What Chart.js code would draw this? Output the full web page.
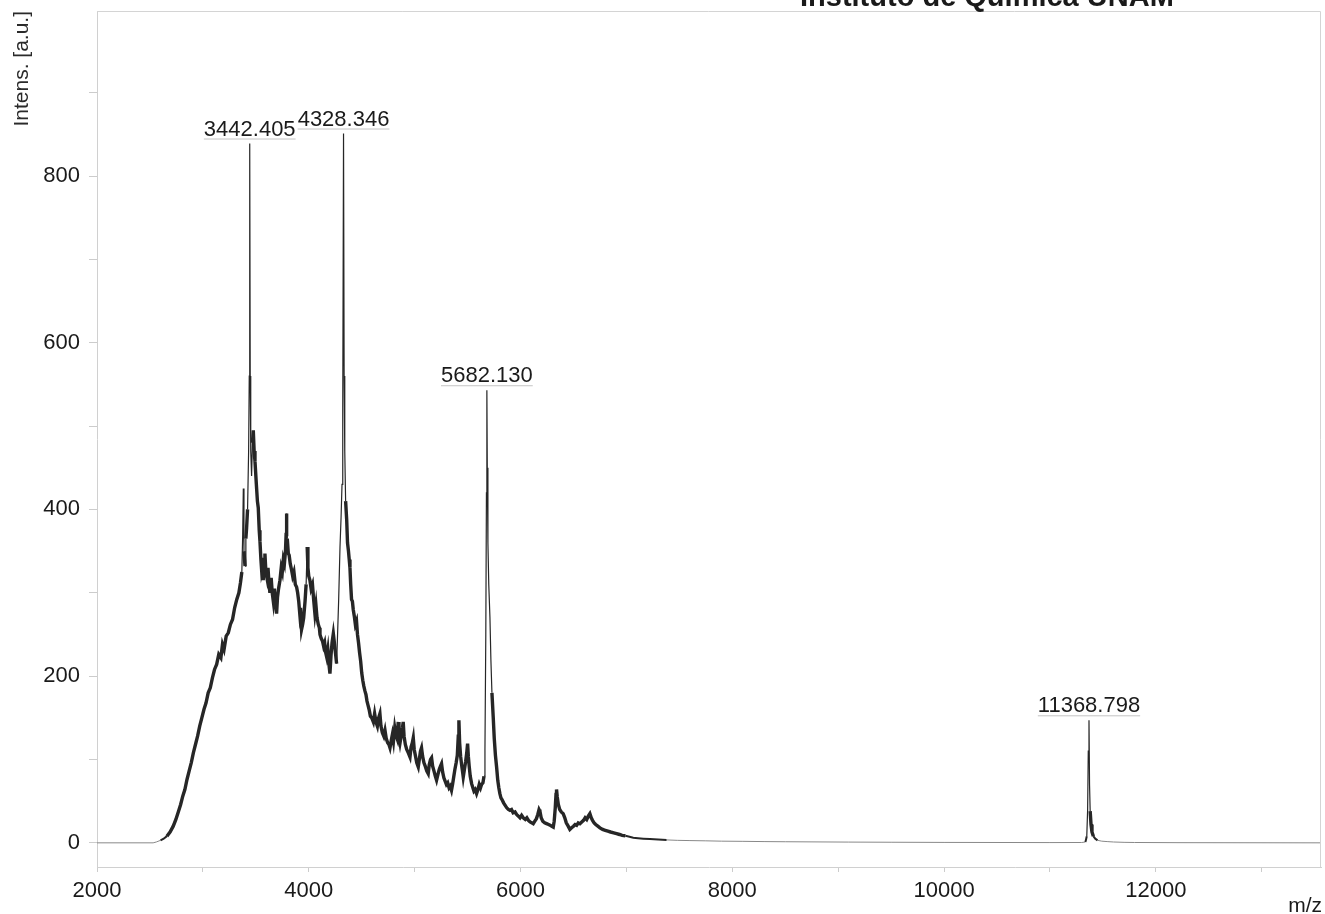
<!DOCTYPE html>
<html>
<head>
<meta charset="utf-8">
<script src="https://cdn.jsdelivr.net/npm/chart.js@4.4.1/dist/chart.umd.min.js"></script>
<style>
  html, body { margin: 0; padding: 0; background: #fff; }
</style>
</head>
<body>
<canvas id="spettro" width="1325" height="914"></canvas>
<script>
// m/z e intensita'
const mzValues = [
  2000, 2530, 2560, 2600, 2630, 2660, 2690, 2720, 2745, 2770, 2790, 2810, 2830, 2850, 2870, 2890, 2910, 2930, 2950, 2970,
  2990, 3010, 3030, 3050, 3070, 3090, 3110, 3130, 3150, 3170, 3185, 3200, 3220, 3240, 3260, 3280, 3300, 3320, 3340, 3355,
  3368, 3376, 3382, 3388, 3398, 3406, 3413, 3422, 3432, 3438, 3442.405, 3447, 3452, 3460, 3468, 3476, 3484, 3492, 3505, 3515,
  3523, 3532, 3539, 3548, 3556, 3565, 3570, 3578, 3586, 3595, 3605, 3615, 3625, 3633, 3645, 3655, 3665, 3675, 3685, 3696,
  3705, 3715, 3728, 3740, 3750, 3760, 3770, 3780, 3786, 3791, 3797, 3807, 3815, 3825, 3838, 3848, 3860, 3873, 3885, 3895,
  3905, 3915, 3922, 3932, 3942, 3952, 3965, 3975, 3985, 3992, 4000, 4011, 4022, 4035, 4046, 4058, 4068, 4078, 4090, 4100,
  4106, 4118, 4130, 4140, 4150, 4160, 4169, 4180, 4190, 4200, 4210, 4220, 4232, 4242, 4252, 4263, 4272, 4282, 4295, 4305,
  4314, 4321, 4328.346, 4334, 4340, 4348, 4358, 4366, 4375, 4382, 4389, 4396, 4404, 4412, 4420, 4430, 4440, 4451, 4460, 4470,
  4480, 4490, 4500, 4510, 4520, 4531, 4540, 4550, 4560, 4570, 4582, 4595, 4610, 4622, 4635, 4648, 4660, 4672, 4682, 4695,
  4708, 4720, 4732, 4745, 4757, 4767, 4778, 4790, 4800, 4812, 4822, 4835, 4845, 4852, 4862, 4875, 4885, 4892, 4900, 4912,
  4925, 4940, 4956, 4966, 4978, 4987, 4996, 5008, 5020, 5034, 5044, 5055, 5065, 5075, 5088, 5100, 5115, 5128, 5138, 5150,
  5160, 5170, 5183, 5195, 5207, 5220, 5232, 5244, 5254, 5264, 5276, 5288, 5300, 5312, 5325, 5336, 5348, 5358, 5370, 5380,
  5392, 5403, 5412, 5418, 5425, 5434, 5445, 5452, 5459, 5470, 5482, 5492, 5500, 5507, 5515, 5525, 5538, 5550, 5560, 5572,
  5585, 5598, 5610, 5622, 5632, 5645, 5655, 5664, 5672, 5678, 5682.130, 5686, 5692, 5700, 5711, 5720, 5730, 5742, 5752, 5763,
  5774, 5785, 5795, 5805, 5815, 5825, 5840, 5855, 5870, 5885, 5900, 5915, 5930, 5948, 5963, 5980, 5995, 6010, 6026, 6045,
  6060, 6075, 6090, 6105, 6120, 6135, 6150, 6163, 6175, 6183, 6195, 6210, 6228, 6246, 6265, 6280, 6295, 6309, 6318, 6328,
  6335, 6340, 6347, 6357, 6370, 6385, 6403, 6418, 6432, 6450, 6466, 6482, 6500, 6515, 6530, 6545, 6561, 6578, 6595, 6610,
  6625, 6640, 6655, 6668, 6680, 6695, 6710, 6730, 6750, 6775, 6800, 6825, 6850, 6880, 6907, 6935, 6960, 6990, 7020, 7065,
  7110, 7160, 7222, 7300, 7380, 7480, 7600, 7750, 7900, 8100, 8300, 8500, 8800, 9100, 9500, 10000, 10500, 11000, 11300, 11335,
  11348, 11356, 11362, 11368.798, 11374, 11380, 11388, 11397, 11410, 11428, 11450, 11490, 11540, 11600, 11700, 11800, 12200, 13560
];
const intensityValues = [
  0, 0, 1, 3, 5, 8, 13, 20, 28, 38, 46, 56, 64, 76, 86, 96, 108, 118, 128, 140,
  150, 160, 168, 180, 186, 198, 208, 214, 226, 222, 238, 232, 248, 252, 262, 268, 282, 292, 300, 312,
  325, 370, 425, 350, 332, 365, 378, 400, 470, 560, 839, 560, 470, 440, 480, 495, 470, 458, 430, 410,
  402, 375, 362, 340, 325, 330, 315, 340, 347, 325, 318, 330, 310, 300, 318, 300, 290, 305, 288, 275,
  295, 305, 315, 330, 325, 340, 335, 350, 370, 395, 365, 347, 345, 335, 327, 320, 325, 310, 307, 300,
  290, 275, 282, 256, 262, 270, 290, 310, 355, 330, 320, 315, 305, 310, 292, 275, 285, 270, 262, 258,
  250, 245, 242, 236, 240, 228, 223, 232, 215, 203, 225, 240, 251, 240, 228, 215, 250, 290, 355, 390,
  430, 520, 851, 560, 470, 410, 388, 360, 350, 340, 330, 310, 292, 290, 280, 272, 262, 266, 250, 240,
  228, 218, 204, 195, 188, 182, 178, 170, 165, 160, 152, 150, 145, 155, 145, 140, 150, 155, 140, 132,
  128, 135, 125, 120, 118, 114, 122, 130, 122, 138, 130, 125, 145, 128, 120, 130, 138, 145, 128, 118,
  112, 108, 103, 115, 120, 126, 112, 104, 96, 91, 100, 110, 114, 104, 96, 92, 86, 83, 94, 100,
  102, 92, 86, 80, 75, 82, 88, 92, 95, 85, 78, 74, 70, 72, 66, 68, 63, 70, 80, 88,
  96, 105, 128, 147, 120, 104, 92, 86, 79, 88, 98, 108, 119, 104, 92, 80, 71, 66, 62, 64,
  59, 64, 70, 66, 70, 72, 80, 111, 250, 420, 543, 450, 360, 310, 271, 220, 180, 151, 125, 105,
  91, 75, 66, 59, 54, 52, 48, 45, 42, 40, 39, 40, 36, 37, 34, 32, 30, 33, 30, 28,
  30, 27, 25, 24, 23, 26, 29, 34, 40, 38, 30, 26, 24, 23, 22, 21, 20, 19, 26, 42,
  58, 64, 55, 46, 40, 37, 35, 30, 24, 20, 16, 18, 20, 22, 21, 24, 23, 25, 27, 30,
  28, 32, 35, 30, 27, 24, 22, 20, 18, 16, 15, 14, 13, 12, 11, 10, 9, 8.5, 7.5, 6,
  5.5, 5, 4.5, 4, 3.5, 3, 2.7, 2.4, 2, 1.8, 1.5, 1.3, 1.1, 0.9, 0.7, 0.5, 0.4, 0.3, 0.4, 1,
  8, 40, 110, 147, 70, 38, 22, 13, 8, 5, 3, 2, 1.5, 1, 0.6, 0.4, 0.2, 0
];

const xTicks = [2000, 3000, 4000, 5000, 6000, 7000, 8000, 9000, 10000, 11000, 12000, 13000];
const yTicks = [0, 100, 200, 300, 400, 500, 600, 700, 800, 900];

// picchi etichettati
const peakMz = [3442.405, 4328.346, 5682.130, 11368.798];
const peakIntensity = [839, 851, 543, 147];

const FONT = "'Liberation Sans', Arial, Helvetica, sans-serif";

const punti = mzValues.map((m, i) => ({ x: m, y: intensityValues[i] }));

// etichette, bordo e titoli
const decorazioni = {
  id: "decorazioni",
  afterDraw(chart) {
    const ctx = chart.ctx;
    const area = chart.chartArea;
    const sx = chart.scales.x;
    const sy = chart.scales.y;
    ctx.save();

    // bordo superiore e destro
    ctx.strokeStyle = "#d4d4d4";
    ctx.lineWidth = 1;
    ctx.beginPath();
    ctx.moveTo(area.left, area.top + 0.5);
    ctx.lineTo(area.right - 0.5, area.top + 0.5);
    ctx.lineTo(area.right - 0.5, area.bottom);
    ctx.stroke();

    // etichette dei picchi
    ctx.font = "22px " + FONT;
    ctx.fillStyle = "#1a1a1a";
    ctx.textAlign = "center";
    ctx.textBaseline = "alphabetic";
    peakMz.forEach((m, i) => {
      const px = sx.getPixelForValue(m);
      const py = sy.getPixelForValue(peakIntensity[i]);
      const testo = m.toFixed(3);
      const w = ctx.measureText(testo).width;
      ctx.strokeStyle = "#c4c4c4";
      ctx.beginPath();
      ctx.moveTo(px - w / 2, py - 4.5);
      ctx.lineTo(px + w / 2, py - 4.5);
      ctx.stroke();
      ctx.fillText(testo, px, py - 8);
    });

    // titolo asse y
    ctx.save();
    ctx.font = "21px " + FONT;
    ctx.fillStyle = "#2a2a2a";
    ctx.translate(22, 11);
    ctx.rotate(-Math.PI / 2);
    ctx.textAlign = "right";
    ctx.textBaseline = "middle";
    ctx.fillText("Intens. [a.u.]", 0, 0);
    ctx.restore();

    // titolo asse x
    ctx.font = "21px " + FONT;
    ctx.fillStyle = "#1a1a1a";
    ctx.textAlign = "right";
    ctx.textBaseline = "alphabetic";
    ctx.fillText("m/z", 1322, 912);

    // intestazione (tagliata in alto)
    ctx.font = "bold 29px " + FONT;
    ctx.textAlign = "left";
    ctx.fillText("Instituto de Química UNAM", 800, 6);

    ctx.restore();
  }
};

new Chart(document.getElementById("spettro"), {
  type: "line",
  data: {
    datasets: [{
      label: "Spettro",
      data: punti,
      borderColor: "#262626",
      borderWidth: 3.4,
      pointRadius: 0,
      tension: 0,
      fill: false,
      segment: {
        borderWidth: c => {
          const v = Math.max(c.p0.parsed.y, c.p1.parsed.y);
          const dy = Math.abs(c.p1.y - c.p0.y);
          const dx = Math.abs(c.p1.x - c.p0.x);
          if (v < 4) return 1;
          if (v < 9) return 2;
          if (dy > 25 && dy > 12 * dx) return 1.2;
          return 3.4;
        },
        borderColor: c => Math.max(c.p0.parsed.y, c.p1.parsed.y) < 4 ? "#888" : "#262626"
      }
    }]
  },
  options: {
    responsive: false,
    animation: false,
    events: [],
    layout: { padding: { top: 11, right: 4, left: 0, bottom: 0 } },
    plugins: {
      legend: { display: false },
      tooltip: { enabled: false }
    },
    scales: {
      x: {
        type: "linear",
        min: 2000,
        max: 13560,
        afterBuildTicks: s => { s.ticks = xTicks.map(v => ({ value: v })); },
        afterFit: s => { s.height = 47; s.paddingLeft = 0; s.paddingRight = 0; },
        ticks: {
          autoSkip: false,
          maxRotation: 0,
          padding: 6,
          color: "#1a1a1a",
          font: { family: FONT, size: 22 },
          callback: v => (v % 2000 === 0 ? String(v) : "")
        },
        grid: { drawOnChartArea: false, drawTicks: true, tickLength: 5, color: "#cccccc" },
        border: { color: "#d0d0d0" }
      },
      y: {
        min: -29,
        max: 998,
        afterBuildTicks: s => { s.ticks = yTicks.map(v => ({ value: v })); },
        afterFit: s => { s.width = 97; s.paddingTop = 0; s.paddingBottom = 0; },
        ticks: {
          autoSkip: false,
          padding: 9,
          color: "#1a1a1a",
          font: { family: FONT, size: 22 },
          callback: v => (v % 200 === 0 ? String(v) : "")
        },
        grid: { drawOnChartArea: false, drawTicks: true, tickLength: 8, color: "#cccccc" },
        border: { color: "#d0d0d0" }
      }
    }
  },
  plugins: [decorazioni]
});
</script>
</body>
</html>
